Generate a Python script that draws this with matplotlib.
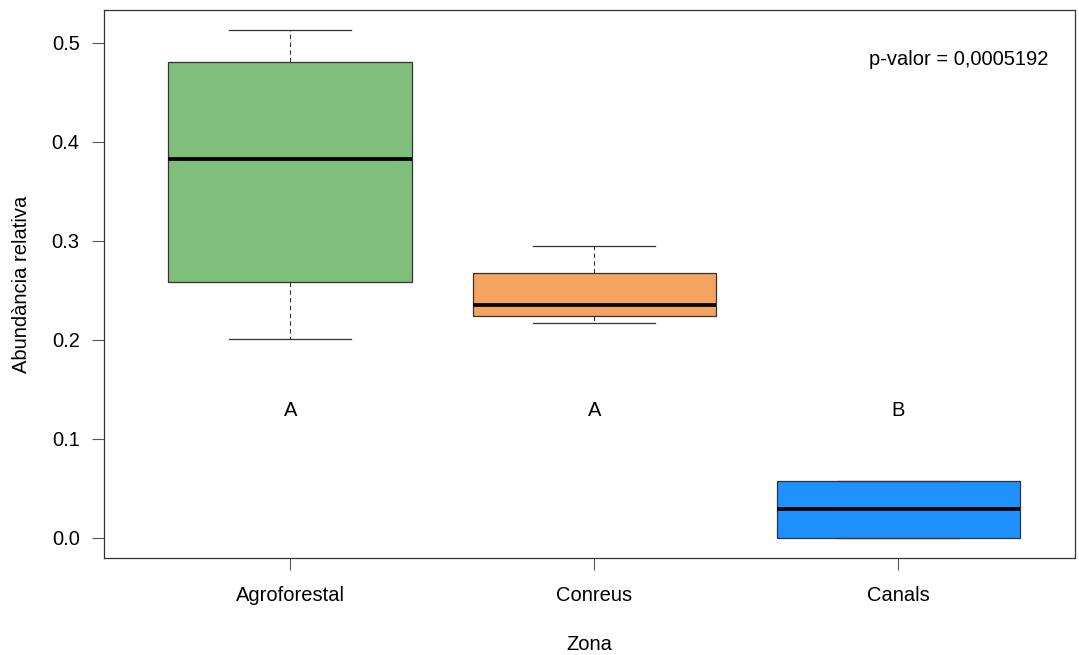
import matplotlib
matplotlib.use("Agg")
import matplotlib.pyplot as plt

plt.rcParams['font.family'] = ['Liberation Sans', 'DejaVu Sans']

# Box summary statistics per zone
zones = ["Agroforestal", "Conreus", "Canals"]
whisker_low = [0.2004, 0.2166, 0.0]
q1 = [0.258, 0.2237, 0.0]
median = [0.3826, 0.2348, 0.0294]
q3 = [0.4808, 0.2672, 0.0577]
whisker_high = [0.513, 0.2945, 0.0577]
colors = ["#80BE7C", "#F4A460", "#1E90FF"]
group_letters = ["A", "A", "B"]
letter_y = 0.1285
p_text = "p-valor = 0,0005192"

FS = 14.5

fig = plt.figure(figsize=(10.79, 6.55), dpi=100)
ax = fig.add_axes([0.0964, 0.1481, 0.9003, 0.8366])

stats = []
for i, z in enumerate(zones):
    stats.append(dict(label=z, whislo=whisker_low[i], q1=q1[i], med=median[i],
                      q3=q3[i], whishi=whisker_high[i], fliers=[]))

positions = list(range(1, len(zones) + 1))
bp = ax.bxp(stats, positions=positions, widths=0.8, patch_artist=True,
            showfliers=False, capwidths=0.4,
            boxprops=dict(edgecolor="#333333", linewidth=0.9),
            medianprops=dict(color="black", linewidth=2.7, solid_capstyle="butt"),
            whiskerprops=dict(color="#333333", linewidth=0.8, linestyle=(0, (4, 3))),
            capprops=dict(color="#333333", linewidth=0.9))
for patch, c in zip(bp["boxes"], colors):
    patch.set_facecolor(c)

for x, t in zip(positions, group_letters):
    ax.text(x, letter_y, t, ha="center", va="center", fontsize=FS)

ax.text(3.197, 0.4838, p_text, ha="center", va="center", fontsize=FS)

ax.set_xlim(0.388, 3.582)
ax.set_ylim(-0.0205, 0.5333)
ax.set_yticks([0.0, 0.1, 0.2, 0.3, 0.4, 0.5])
ax.set_yticklabels(["0.0", "0.1", "0.2", "0.3", "0.4", "0.5"])
ax.set_xticks(positions)
ax.set_xticklabels(zones)

for s in ax.spines.values():
    s.set_color("#333333")
    s.set_linewidth(0.9)

ax.tick_params(axis="y", direction="out", length=8.5, width=0.8, color="#555555",
               labelsize=FS, pad=9)
ax.tick_params(axis="x", direction="out", length=8.5, width=0.8, color="#555555",
               labelsize=FS, pad=12)

ax.set_xlabel("Zona", fontsize=FS, labelpad=21)
ax.set_ylabel("Abundància relativa", fontsize=FS, labelpad=15)

fig.savefig("out.png", dpi=100, facecolor="white")
